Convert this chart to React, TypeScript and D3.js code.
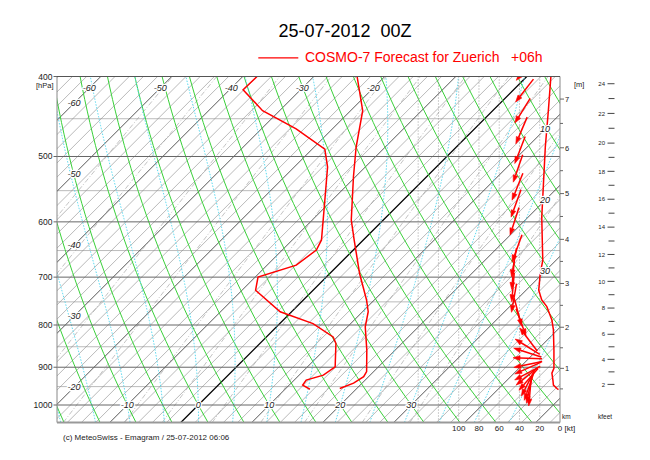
import React from 'react';
import * as d3 from 'd3';

// ---------------- data ----------------
const tempP = [400, 440, 487, 529, 597, 631, 693, 746, 771, 804, 858, 911, 924, 941, 955];
const tempT = [-23.9, -18.3, -14.1, -10.3, -4.5, -1.3, 4.2, 8.9, 10.8, 12.5, 16.0, 19.0, 19.3, 18.8, 17.6];

const dewP = [400, 415, 440, 463, 490, 515, 570, 631, 649, 677, 700, 726, 771, 797, 827, 842, 899, 920, 933, 946, 957];
const dewT = [-38.0, -38.1, -32.4, -25.1, -18.2, -15.3, -10.6, -5.9, -5.2, -5.9, -9.6, -8.1, -1.6, 4.7, 9.4, 10.7, 13.9, 13.4, 11.7, 11.9, 13.5];

const windSpdP = [400, 440, 487, 592, 631, 668, 693, 726, 746, 760, 789, 811, 858, 903, 915, 933, 946, 955, 958];
const windSpd = [9, 11.5, 14.5, 18, 17.5, 17, 19.5, 21, 18, 13, 8, 6.5, 6, 6, 8, 7, 6.5, 3, 1.5];

const arrowP = [392, 416, 440, 465, 491, 517, 544, 570, 599, 646, 672, 696, 720, 742, 772, 794,
  833, 850, 864, 878, 893, 902, 915, 922, 931, 941, 950, 956, 963];
const arrowDir = [40, 38, 32, 23, 21, 19, 22, 20, 18, 20, 10, 5, 5, 10, 345, 340,
  143, 122, 108, 92, 78, 66, 62, 51, 41, 27, 19, 12, 5];
const arrowPos = [34, 35, 37, 38, 39.5, 41.5, 42, 43.4, 44.9, 42.4, 45.4, 46.4, 46.4, 45.4, 41.5, 38.5,
  31.1, 32.1, 32.1, 32.1, 31.6, 31.6, 32.1, 32.1, 31.1, 31.6, 30.6, 30.1, 29.6];

const pressureLabels = [400, 500, 600, 700, 800, 900, 1000];
const pressureMinor = [450, 550, 650, 750, 850, 950];
const isoTopLabels = [-60, -50, -40, -30, -20];
const isoLeftLabels = [-60, -50, -40, -30, -20];
const isoBottomLabels = [-10, 0, 10, 20, 30];
const isoRightLabels = [10, 20, 30];
const speedLabels = [100, 80, 60, 40, 20, 0];
const speedGrid = [20, 40, 60, 80, 100, 120, 140];
const kmTicks = [1, 2, 3, 4, 5, 6, 7];
const kmTickP = [902.8, 805, 712.5, 630, 554.5, 488, 426];
const kmMinor = [0.5, 1.5, 2.5, 3.5, 4.5, 5.5, 6.5, 7.5];
const kftMajor = [2, 4, 6, 8, 10, 12, 14, 16, 18, 20, 22, 24];
const kftMinor = [3, 5, 7, 9, 11, 13, 15, 17, 19, 21, 23];
const mixingRatios = [0.1, 0.2, 0.5, 1, 2, 3, 5, 8, 12, 20, 30];

// ---------------- geometry ----------------
const L = 57, R = 560, TOP = 76.5, BOT = 422.5;
const P_TOP = 400, P_BOT = 1050;
const pScale = d3.scaleLog().domain([1000, 400]).range([405, 76.5]);
const tScale = d3.scaleLinear().domain([0, 10]).range([198.3, 269.3]);
const wScale = d3.scaleLinear().domain([0, 100]).range([560, 458.7]);
const y1000 = pScale(1000);
const sx = (T: number, p: number) => tScale(T) + (y1000 - pScale(p));
const hScale = d3.scaleLinear().domain(kmTicks).range(kmTickP.map((p) => pScale(p)));

const line = d3.line<[number, number]>().x((d) => d[0]).y((d) => d[1]);

const logSamples = (n: number) => d3.range(n + 1).map((i) => P_BOT * Math.pow(P_TOP / P_BOT, i / n));

// thermodynamics for background lines
const Rd = 287.04, Cp = 1005.7, Lv = 2.501e6, EPS = 0.622;
const es = (Tc: number) => 6.112 * Math.exp((17.67 * Tc) / (Tc + 243.5));

function moistAdiabat(twC: number): [number, number][] {
  const dlnp = 0.004;
  const step = (T: number, p: number, dir: number) => {
    const Tc = T - 273.15;
    const e = es(Tc);
    const rs = (EPS * e) / (p - e);
    const g = (Rd * T + Lv * rs) / (Cp + (Lv * Lv * rs * EPS) / (Rd * T * T));
    return T + dir * g * dlnp;
  };
  const up: [number, number][] = [];
  let T = twC + 273.15, lp = Math.log(1000);
  while (lp > Math.log(P_TOP) - 0.01) {
    const p = Math.exp(lp);
    up.push([sx(T - 273.15, p), pScale(p)]);
    T = step(T, p, -1);
    lp -= dlnp;
  }
  const down: [number, number][] = [];
  T = twC + 273.15; lp = Math.log(1000);
  while (lp < Math.log(P_BOT) + 0.01) {
    const p = Math.exp(lp);
    down.push([sx(T - 273.15, p), pScale(p)]);
    T = step(T, p, 1);
    lp += dlnp;
  }
  return down.reverse().concat(up);
}

function mixLine(w: number): [number, number][] {
  return logSamples(30).map((p) => {
    const ww = w / 1000;
    const e = (ww * p) / (EPS + ww);
    const lg = Math.log(e / 6.112);
    const Td = (243.5 * lg) / (17.67 - lg);
    return [sx(Td, p), pScale(p)];
  });
}

function dryAdiabat(theta: number): [number, number][] {
  return logSamples(30).map((p) => [sx(theta * Math.pow(p / 1000, 0.2857) - 273.15, p), pScale(p)]);
}

const FONT = '"Liberation Sans", Arial, Helvetica, sans-serif';
const RED = '#ff0000';

export default function App() {
  const isotherms = d3.range(-130, 62, 2);
  const thetas = d3.range(243.15, 390, 5);
  const thetaWs = d3.range(-25, 46, 5);

  const tempPts: [number, number][] = tempP.map((p, i) => [sx(tempT[i], p), pScale(p)]);
  const dewPts: [number, number][] = dewP.map((p, i) => [sx(dewT[i], p), pScale(p)]);
  const spdPts: [number, number][] = windSpdP.map((p, i) => [wScale(windSpd[i]), pScale(p)]);

  const ARROW_LEN = 29;
  const arrows = arrowP.map((p, i) => {
    const cx = wScale(arrowPos[i]);
    const cy = pScale(p);
    const b = ((arrowDir[i] + 180) * Math.PI) / 180;
    const ux = Math.sin(b), uy = -Math.cos(b);
    const hx = cx + (ux * ARROW_LEN) / 2, hy = cy + (uy * ARROW_LEN) / 2;
    const tx = cx - (ux * ARROW_LEN) / 2, ty = cy - (uy * ARROW_LEN) / 2;
    const hl = 7, hw = 2.4;
    const bx = hx - ux * hl, by = hy - uy * hl;
    const head = `M${hx},${hy}L${bx - uy * hw},${by + ux * hw}L${bx + uy * hw},${by - ux * hw}Z`;
    return { tx, ty, hx: bx, hy: by, head };
  });

  const labelStyle: React.CSSProperties = {
    fontFamily: FONT,
    fontSize: 9,
    fontStyle: 'italic',
    fill: '#222',
    stroke: '#fff',
    strokeWidth: 2.5,
    paintOrder: 'stroke',
  };

  return (
    <svg width={650} height={460} style={{ position: 'absolute', left: 0, top: 0, background: '#fff' }}>
      <defs>
        <clipPath id="plot">
          <rect x={L} y={TOP} width={R - L} height={BOT - TOP} />
        </clipPath>
      </defs>

      {/* title & legend */}
      <text x={345} y={36.5} textAnchor="middle" fontFamily={FONT} fontSize={18} fill="#000" style={{ whiteSpace: 'pre' }}>
        {'25-07-2012  00Z'}
      </text>
      <line x1={258.3} x2={298.3} y1={57.8} y2={57.8} stroke={RED} strokeWidth={1.2} />
      <text x={305} y={62.3} fontFamily={FONT} fontSize={14} fill={RED}>COSMO-7 Forecast for Zuerich</text>
      <text x={511} y={62.3} fontFamily={FONT} fontSize={14} fill={RED}>+06h</text>

      <g clipPath="url(#plot)">
        {/* minor isobars */}
        {pressureMinor.map((p) => (
          <line key={'pm' + p} x1={L} x2={R} y1={pScale(p)} y2={pScale(p)} stroke="#bbb" strokeWidth={1} />
        ))}
        {/* isotherms */}
        {isotherms.map((T) => {
          const major = T % 10 === 0;
          const zero = T === 0;
          return (
            <line
              key={'it' + T}
              x1={sx(T, P_BOT)}
              y1={pScale(P_BOT)}
              x2={sx(T, P_TOP)}
              y2={pScale(P_TOP)}
              stroke={zero ? '#000' : major ? '#444' : '#8a8a8a'}
              strokeWidth={zero ? 1.3 : major ? 0.9 : 0.6}
            />
          );
        })}
        {/* mixing ratio lines */}
        {mixingRatios.map((w) => (
          <path key={'mr' + w} d={line(mixLine(w)) || ''} fill="none" stroke="#9a9a9a" strokeWidth={0.6} strokeDasharray="5,2,1,2" />
        ))}
        {/* dry adiabats */}
        {thetas.map((th) => (
          <path key={'da' + th} d={line(dryAdiabat(th)) || ''} fill="none" stroke="#3ad03a" strokeWidth={1} />
        ))}
        {/* saturated adiabats */}
        {thetaWs.map((tw) => (
          <path key={'sa' + tw} d={line(moistAdiabat(tw)) || ''} fill="none" stroke="#5ad8ee" strokeWidth={1} strokeDasharray="1.5,1.5" />
        ))}
        {/* major isobars */}
        {pressureLabels.map((p) => (
          <line key={'pM' + p} x1={L} x2={R} y1={pScale(p)} y2={pScale(p)} stroke="#666" strokeWidth={1} />
        ))}
        {/* wind speed grid */}
        {speedGrid.map((s) => (
          <line key={'sg' + s} x1={wScale(s)} x2={wScale(s)} y1={TOP} y2={BOT} stroke="#888" strokeWidth={0.8} strokeDasharray="1,2" />
        ))}

        {/* profiles */}
        <path d={line(dewPts) || ''} fill="none" stroke={RED} strokeWidth={1.5} />
        <path d={line(tempPts) || ''} fill="none" stroke={RED} strokeWidth={1.5} />
        <path d={line(spdPts) || ''} fill="none" stroke={RED} strokeWidth={1.5} />
        {arrows.map((a, i) => (
          <g key={'ar' + i}>
            <line x1={a.tx} y1={a.ty} x2={a.hx} y2={a.hy} stroke={RED} strokeWidth={1.5} />
            <path d={a.head} fill={RED} stroke={RED} strokeWidth={0.6} />
          </g>
        ))}
      </g>

      {/* frame */}
      <line x1={L} x2={L} y1={TOP} y2={BOT} stroke="#888" strokeWidth={1} />
      <line x1={R} x2={R} y1={TOP} y2={BOT} stroke="#888" strokeWidth={1} />
      <line x1={L} x2={R} y1={TOP} y2={TOP} stroke="#555" strokeWidth={1} />
      <line x1={L} x2={R} y1={BOT} y2={BOT} stroke="#999" strokeWidth={2} />

      {/* isotherm labels */}
      {isoTopLabels.map((T) => (
        <text key={'lt' + T} x={sx(T, 413)} y={pScale(413) + 3} textAnchor="middle" style={labelStyle}>{T}</text>
      ))}
      {isoLeftLabels.map((T) => (
        <text key={'ll' + T} x={74} y={tScale(T) + y1000 - 74 + 3} textAnchor="middle" style={labelStyle}>{T}</text>
      ))}
      {isoBottomLabels.map((T) => (
        <text key={'lb' + T} x={sx(T, 1000)} y={y1000 + 3} textAnchor="middle" style={labelStyle}>{T}</text>
      ))}
      {isoRightLabels.map((T) => (
        <text key={'lr' + T} x={545} y={tScale(T) + y1000 - 545 + 3} textAnchor="middle" style={labelStyle}>{T}</text>
      ))}

      {/* pressure axis */}
      {pressureLabels.map((p) => (
        <g key={'pl' + p}>
          <line x1={53.5} x2={L} y1={pScale(p)} y2={pScale(p)} stroke="#666" />
          <text x={52.5} y={pScale(p) + 3} textAnchor="end" fontFamily={FONT} fontSize={8.5} fill="#222">{p}</text>
        </g>
      ))}
      <text x={53.5} y={88} textAnchor="end" fontFamily={FONT} fontSize={7.5} fill="#222">[hPa]</text>

      {/* wind speed axis */}
      {speedLabels.map((s) => (
        <text key={'sl' + s} x={wScale(s)} y={430.5} textAnchor="middle" fontFamily={FONT} fontSize={8} fill="#222">{s}</text>
      ))}
      <text x={564.5} y={430.5} fontFamily={FONT} fontSize={8} fill="#222">[kt]</text>

      {/* km axis */}
      {kmTicks.map((k) => (
        <g key={'km' + k}>
          <line x1={R} x2={R + 4} y1={hScale(k)} y2={hScale(k)} stroke="#666" />
          <text x={565} y={hScale(k) + 2.8} fontFamily={FONT} fontSize={7.5} fill="#222">{k}</text>
        </g>
      ))}
      {kmMinor.filter((k) => hScale(k) > TOP && hScale(k) < BOT).map((k) => (
        <line key={'kmm' + k} x1={R} x2={R + 3} y1={hScale(k)} y2={hScale(k)} stroke="#666" />
      ))}
      <text x={574} y={87} fontFamily={FONT} fontSize={7.5} fill="#222">[m]</text>
      <text x={562} y={419} fontFamily={FONT} fontSize={6.5} fill="#222">km</text>

      {/* kfeet axis */}
      {kftMajor.map((f) => (
        <g key={'kf' + f}>
          <line x1={607.5} x2={614.5} y1={hScale(f * 0.3048)} y2={hScale(f * 0.3048)} stroke="#444" />
          <text x={605} y={hScale(f * 0.3048) + 2.2} textAnchor="end" fontFamily={FONT} fontSize={6} fill="#222">{f}</text>
        </g>
      ))}
      {kftMinor.map((f) => (
        <line key={'kfm' + f} x1={608.5} x2={614.5} y1={hScale(f * 0.3048)} y2={hScale(f * 0.3048)} stroke="#444" />
      ))}
      <text x={598} y={419} fontFamily={FONT} fontSize={6.5} fill="#222">kfeet</text>

      {/* caption */}
      <text x={63} y={439.5} fontFamily={FONT} fontSize={8} fill="#222">(c) MeteoSwiss - Emagram / 25-07-2012 06:06</text>
    </svg>
  );
}
